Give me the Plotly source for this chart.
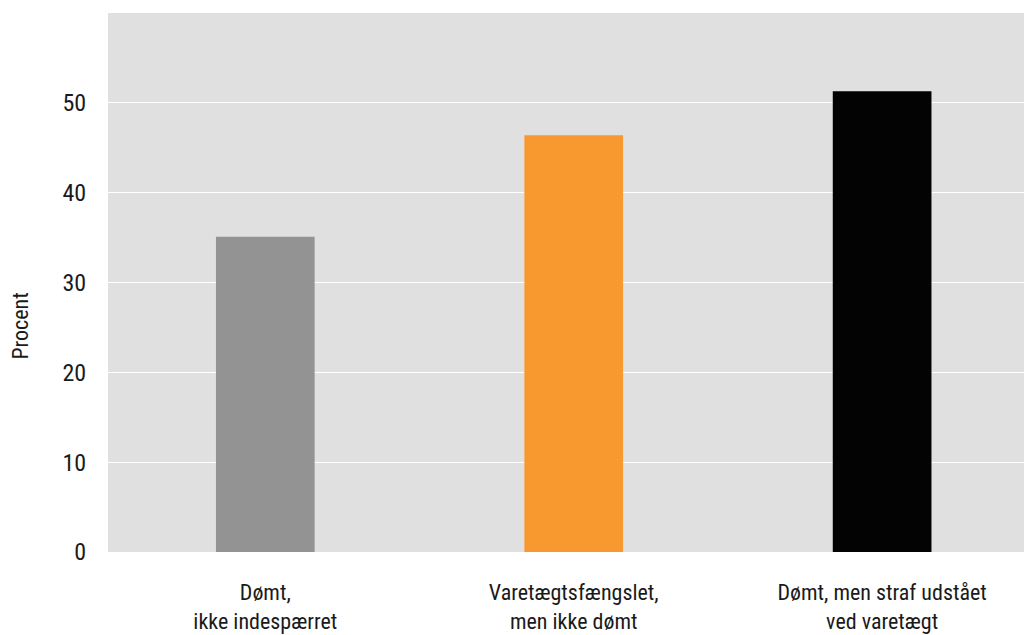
import plotly.graph_objects as go

categories = ["Dømt,<br>ikke indespærret", "Varetægtsfængslet,<br>men ikke dømt", "Dømt, men straf udstået<br>ved varetægt"]
values = [35.1, 46.4, 51.3]
colors = ["#939393", "#F7992E", "#030303"]
y_ticks = [0, 10, 20, 30, 40, 50]

FONT = "Liberation Sans Narrow, Roboto Condensed, Arial Narrow, sans-serif"

fig = go.Figure(go.Bar(
    x=categories, y=values, marker=dict(color=colors, line=dict(width=0)),
    width=0.32, hoverinfo="skip"
))

fig.update_layout(
    width=1024, height=635,
    margin=dict(l=108, r=0, t=13, b=83, autoexpand=False),
    paper_bgcolor="white", plot_bgcolor="#E0E0E0",
    font=dict(family=FONT, size=22, color="#1a1a1a"),
    showlegend=False,
    annotations=[dict(text="Procent", x=-0.095, y=0.42, xref="paper", yref="paper",
                      xanchor="center", yanchor="middle", textangle=-90, showarrow=False,
                      font=dict(family=FONT, size=22, color="#1a1a1a"))],
)
fig.update_xaxes(range=[-0.51, 2.46], showgrid=False, zeroline=False, showline=False,
                 ticks="outside", ticklen=21, tickcolor="rgba(0,0,0,0)", automargin=False,
                 tickfont=dict(family=FONT, size=22))
fig.update_yaxes(range=[0, 60], tickvals=y_ticks, showgrid=True, gridcolor="white", gridwidth=1.2,
                 zeroline=False, showline=False, ticks="outside", ticklen=16, automargin=False,
                 tickcolor="rgba(0,0,0,0)", tickfont=dict(family=FONT, size=24))

fig.write_html("out.html", config={"displayModeBar": False},
               post_script="document.body.style.margin='0';document.body.style.overflow='hidden';")
